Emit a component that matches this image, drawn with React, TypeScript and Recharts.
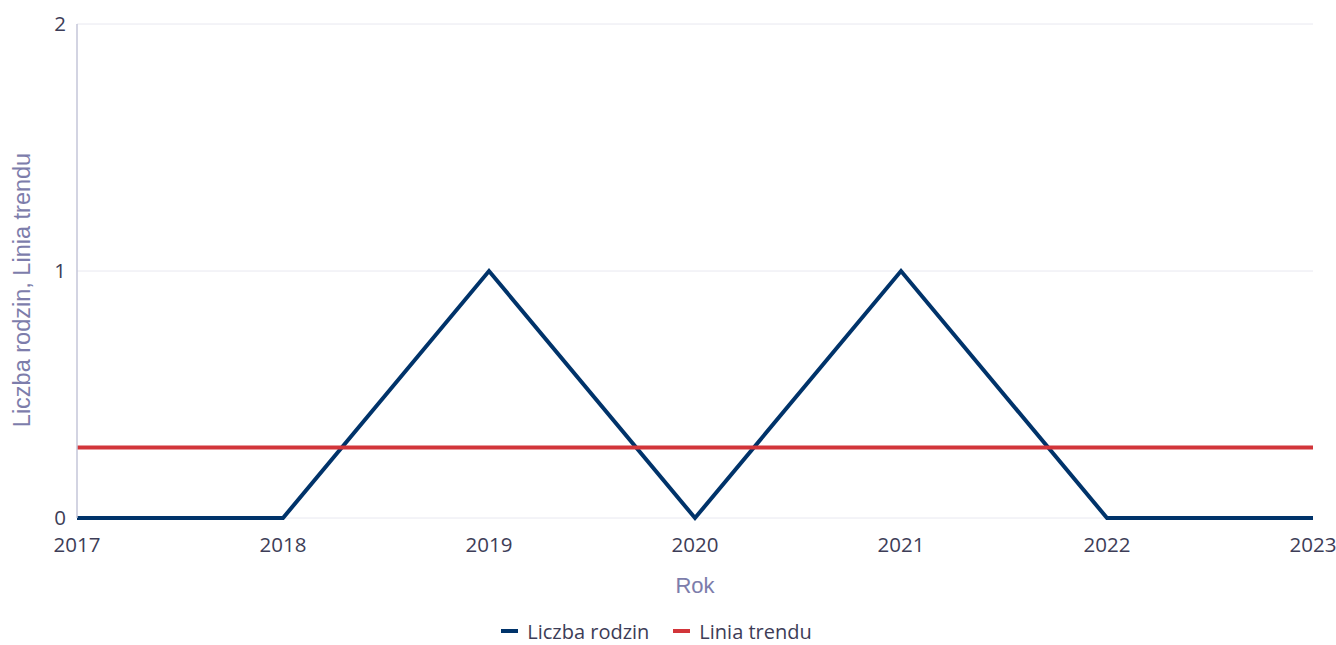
import { LineChart, Line, XAxis, YAxis, CartesianGrid, Legend, Label } from 'recharts';

const years = [2017, 2018, 2019, 2020, 2021, 2022, 2023];
const families = [0, 0, 1, 0, 1, 0, 0];
const trend = [0.2857, 0.2857, 0.2857, 0.2857, 0.2857, 0.2857, 0.2857];
const yTicks = [0, 1, 2];

const data = years.map((year, i) => ({ year, families: families[i], trend: trend[i] }));

const tickColor = '#3d3d57';
const titleColor = '#7d7dab';
const tickFont = '"Open Sans", "Noto Sans", sans-serif';
const titleFont = '"Liberation Sans", Arial, sans-serif';

const legendItems = [
  { label: 'Liczba rodzin', color: '#00336a' },
  { label: 'Linia trendu', color: '#d2353a' },
];

const LegendContent = () => (
  <div style={{ display: 'flex', justifyContent: 'center', alignItems: 'flex-end', height: 28, gap: 24 }}>
    {legendItems.map((it) => (
      <div key={it.label} style={{ display: 'flex', alignItems: 'center', height: 28 }}>
        <span style={{ width: 17, height: 4, background: it.color, marginRight: 9, display: 'inline-block' }} />
        <span style={{ fontFamily: tickFont, fontSize: 20, lineHeight: 'normal', color: tickColor }}>{it.label}</span>
      </div>
    ))}
  </div>
);

export default function App() {
  return (
    <div style={{ position: 'absolute', left: 0, top: 0 }}>
      <LineChart width={1336} height={645} data={data} margin={{ top: 24, right: 23, left: 0, bottom: 0 }}>
        <CartesianGrid vertical={false} stroke="#e8e8f0" strokeWidth={1} />
        <XAxis
          dataKey="year"
          type="number"
          domain={[2017, 2023]}
          ticks={years}
          height={99}
          tickSize={0}
          tickMargin={19}
          axisLine={false}
          tick={{ fill: tickColor, fontSize: 20.5, fontFamily: tickFont }}
        >
          <Label
            content={({ viewBox }: any) => (
              <text
                x={viewBox.x + viewBox.width / 2}
                y={593}
                textAnchor="middle"
                fill={titleColor}
                fontSize={22}
                fontFamily={titleFont}
              >
                Rok
              </text>
            )}
          />
        </XAxis>
        <YAxis
          domain={[0, 2]}
          ticks={yTicks}
          width={77}
          tickSize={0}
          tickMargin={11}
          stroke="#c4c6d8"
          strokeWidth={1.5}
          tick={{ fill: tickColor, fontSize: 20.5, fontFamily: tickFont }}
        >
          <Label
            content={() => (
              <text
                x={30}
                y={290}
                textAnchor="middle"
                transform="rotate(-90, 30, 290)"
                fill={titleColor}
                fontSize={23.5}
                fontFamily={titleFont}
              >
                Liczba rodzin, Linia trendu
              </text>
            )}
          />
        </YAxis>
        <Legend verticalAlign="bottom" content={<LegendContent />} />
        <Line
          type="linear"
          dataKey="families"
          name="Liczba rodzin"
          stroke="#00336a"
          strokeWidth={4}
          dot={false}
          activeDot={false}
          isAnimationActive={false}
        />
        <Line
          type="linear"
          dataKey="trend"
          name="Linia trendu"
          stroke="#d2353a"
          strokeWidth={4}
          dot={false}
          activeDot={false}
          isAnimationActive={false}
        />
      </LineChart>
    </div>
  );
}
